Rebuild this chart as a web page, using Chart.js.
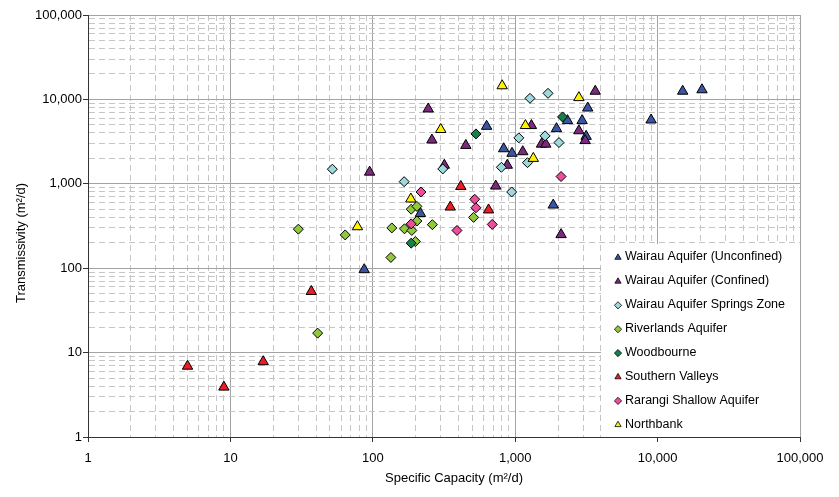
<!DOCTYPE html>
<html>
<head>
<meta charset="utf-8">
<script src="https://cdn.jsdelivr.net/npm/chart.js@4.4.1/dist/chart.umd.min.js"></script>
<style>
    body { margin: 0; background: #fff; }
    #wrap { width: 839px; height: 497px; }
</style>
</head>
<body>
<div id="wrap"><canvas id="scatterChart" width="839" height="497"></canvas></div>
<script>
// axis ticks (decades) and their labels
const decadeTicks = [1, 10, 100, 1000, 10000, 100000];
const xTickLabels = ['1', '10', '100', '1,000', '10,000', '100,000'];
const yTickLabels = ['1', '10', '100', '1,000', '10,000', '100,000'];

const seriesNames = [
    'Wairau Aquifer (Unconfined)',
    'Wairau Aquifer (Confined)',
    'Wairau Aquifer Springs Zone',
    'Riverlands Aquifer',
    'Woodbourne',
    'Southern Valleys',
    'Rarangi Shallow Aquifer',
    'Northbank'
];

// [specific capacity (m2/d), transmissivity (m2/d)]
const wairauUnconfined = [[87, 96], [216, 445], [630, 4800], [830, 2600], [950, 2300], [1850, 560], [1950, 4500],
    [2330, 5600], [2950, 5600], [3150, 3650], [3230, 7900], [9000, 5700], [15000, 12500], [20500, 13000]];
const wairauConfined = [[95, 1375], [245, 7700], [260, 3300], [318, 1660], [450, 2850], [730, 940], [880, 1660],
    [1130, 2400], [1300, 4900], [1530, 2950], [1640, 2950], [2100, 250], [2800, 4250], [3100, 3250], [3650, 12500]];
const springsZone = [[52, 1490], [166, 1060], [310, 1500], [800, 1570], [945, 800], [1060, 3500], [1220, 1780],
    [1270, 10300], [1620, 3700], [1700, 11800], [2030, 3080]];
const riverlands = [[30, 290], [41, 17], [64, 248], [134, 134], [136, 300], [167, 293], [186, 500], [204, 540],
    [188, 280], [204, 362], [199, 207], [262, 328], [510, 400]];
const woodbourne = [[186, 198], [530, 3900], [2150, 6200]];
const southernValleys = [[5, 6.9], [9, 3.9], [17, 7.8], [37, 53], [350, 530], [415, 930], [650, 490]];
const rarangiShallow = [[186, 335], [218, 800], [390, 280], [520, 655], [530, 520], [690, 330], [2100, 1220]];
const northbank = [[78, 310], [185, 660], [300, 4400], [810, 14500], [1180, 4900], [1340, 2000], [2800, 10500]];

const seriesData = [wairauUnconfined, wairauConfined, springsZone, riverlands, woodbourne, southernValleys, rarangiShallow, northbank];
const seriesColors = ['#3B55A5', '#7D2A7E', '#9ED9DC', '#92C83E', '#16804A', '#EE1C25', '#EE4D9B', '#FFF200'];
const seriesShapes = ['triangle', 'triangle', 'rectRot', 'rectRot', 'rectRot', 'triangle', 'rectRot', 'triangle'];

// grid values 1,2,...9,10,20,... for the log grid
const gridValues = [];
decadeTicks.forEach((d, i) => {
    if (i === decadeTicks.length - 1) { gridValues.push(d); return; }
    for (let k = 1; k <= 9; k++) gridValues.push(d * k);
});

const isDecade = v => Math.abs(Math.log10(v) - Math.round(Math.log10(v))) < 1e-6;
const FONT = '"Liberation Sans", Arial, sans-serif';

function logAxis(labels, fitFn, pad) {
    return {
        type: 'logarithmic',
        min: 1,
        max: 100000,
        afterBuildTicks: s => { s.ticks = gridValues.map(v => ({ value: v, major: false })); },
        afterFit: fitFn,
        ticks: {
            autoSkip: false,
            maxRotation: 0,
            minRotation: 0,
            padding: pad,
            color: '#000',
            font: { family: FONT, size: 13 },
            callback: v => {
                const i = decadeTicks.indexOf(v);
                return i >= 0 ? labels[i] : '';
            }
        },
        grid: {
            color: c => (c.tick && !isDecade(c.tick.value)) ? '#c6c6c6' : '#a3a3a3',
            lineWidth: 1,
            tickLength: 5,
            tickColor: c => (c.tick && isDecade(c.tick.value)) ? '#333' : 'rgba(0,0,0,0)'
        },
        border: {
            display: true,
            color: '#333',
            width: 1,
            dash: c => (c.tick && !isDecade(c.tick.value)) ? [6, 4] : []
        }
    };
}

function drawMarker(ctx, shape, x, y, r, fill) {
    ctx.beginPath();
    if (shape === 'triangle') {
        ctx.moveTo(x, y - r);
        ctx.lineTo(x + r * 0.866, y + r / 2);
        ctx.lineTo(x - r * 0.866, y + r / 2);
    } else {
        ctx.moveTo(x, y - r);
        ctx.lineTo(x + r, y);
        ctx.lineTo(x, y + r);
        ctx.lineTo(x - r, y);
    }
    ctx.closePath();
    ctx.fillStyle = fill;
    ctx.fill();
    ctx.lineWidth = 0.8;
    ctx.strokeStyle = '#000';
    ctx.stroke();
}

const overlayPlugin = {
    id: 'overlay',
    beforeDatasetsDraw(chart) {
        const { ctx, chartArea } = chart;
        ctx.save();
        // legend panel inside the plot
        const boxLeft = 601, boxTop = 244;
        ctx.fillStyle = '#fff';
        ctx.fillRect(boxLeft, boxTop, chartArea.right - boxLeft, chartArea.bottom - boxTop);
        ctx.font = '12.5px ' + FONT;
        ctx.textBaseline = 'middle';
        ctx.textAlign = 'left';
        seriesNames.forEach((name, i) => {
            const y = 257 + i * 23.9;
            drawMarker(ctx, seriesShapes[i], 618, y + 0.5, 3.6, seriesColors[i]);
            ctx.fillStyle = '#000';
            ctx.fillText(name, 625, y);
        });
        ctx.restore();
    },
    afterDraw(chart) {
        const { ctx } = chart;
        ctx.save();
        ctx.font = '13px ' + FONT;
        ctx.fillStyle = '#000';
        ctx.textAlign = 'center';
        ctx.textBaseline = 'middle';
        ctx.fillText('Specific Capacity (m\u00B2/d)', 454, 478);
        ctx.translate(21, 243);
        ctx.rotate(-Math.PI / 2);
        ctx.fillText('Transmissivity (m\u00B2/d)', 0, 0);
        ctx.restore();
    }
};

const datasets = seriesData.map((pts, i) => ({
    label: seriesNames[i],
    data: pts.map(p => ({ x: p[0], y: p[1] })),
    pointStyle: seriesShapes[i],
    pointRadius: seriesShapes[i] === 'triangle' ? 6 : 5,
    pointHoverRadius: 6,
    backgroundColor: seriesColors[i],
    borderColor: '#000',
    borderWidth: 1,
    order: seriesData.length - i
}));

new Chart(document.getElementById('scatterChart').getContext('2d'), {
    type: 'scatter',
    data: { datasets },
    options: {
        responsive: false,
        animation: false,
        devicePixelRatio: 1,
        layout: { padding: { left: 0, top: 15, right: 39, bottom: 0 } },
        plugins: {
            legend: { display: false },
            tooltip: { enabled: false }
        },
        scales: {
            x: logAxis(xTickLabels, s => { s.height = 60; }, 9),
            y: logAxis(yTickLabels, s => { s.width = 88; }, 1)
        }
    },
    plugins: [overlayPlugin]
});
</script>
</body>
</html>
